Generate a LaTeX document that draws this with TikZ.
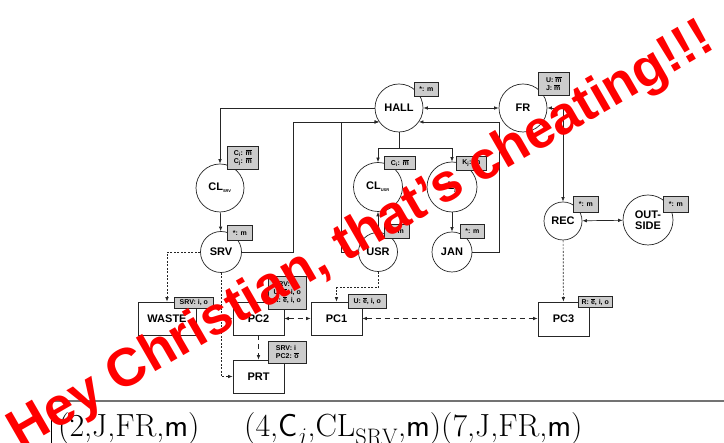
\documentclass[tikz,border=0pt]{standalone}
\usepackage{fontspec}
\newfontfamily\arial{Liberation Sans}
\usetikzlibrary{arrows.meta}
\newcommand\ovl[1]{$\overline{\hbox{#1}}$}
\begin{document}
\begin{tikzpicture}[x=1pt,y=-1pt,
  every node/.style={inner sep=0pt},
  circ/.style={circle,draw=black!85,line width=0.7pt,font=\arial\bfseries\fontsize{11}{12}\selectfont,align=center},
  pcbox/.style={rectangle,draw=black!85,line width=0.7pt,minimum width=51pt,minimum height=33pt,font=\arial\bfseries\fontsize{11}{12}\selectfont},
  lbl/.style={rectangle,draw=black!85,fill=black!20,line width=0.6pt,anchor=north west,font=\arial\bfseries\fontsize{7}{8}\selectfont,align=left,inner xsep=1.5pt,inner ysep=1pt},
  conn/.style={line width=0.7pt,draw=black!85},
  arr/.style={conn,-{Latex[length=4.5pt,width=3.5pt]}},
  darr/.style={conn,{Latex[length=4.5pt,width=3.5pt]}-{Latex[length=4.5pt,width=3.5pt]}},
  dotl/.style={dash pattern=on 2pt off 1.5pt},
  dashl/.style={dash pattern=on 5pt off 4pt},
]
\useasboundingbox (0,0) rectangle (724,443);
\fill[white] (0,0) rectangle (724,443);

% circles
\node[circ,minimum size=48pt] (HALL) at (399,108) {HALL};
\node[circ,minimum size=48pt] (FR) at (523,108) {FR};
\node[circ,minimum size=48pt] (CLSRV) at (220,188) {CL\textsubscript{\fontsize{4}{4}\selectfont SRV}};
\node[circ,minimum size=41pt] (SRV) at (221,252) {SRV};
\node[circ,minimum size=49pt] (CLUSR) at (378,187) {CL\textsubscript{\fontsize{4}{4}\selectfont USR}};
\node[circ,minimum size=50pt] (L) at (452,187) {L\textsubscript{\fontsize{5}{5}\selectfont j}};
\node[circ,minimum size=39pt] (USR) at (378,252) {USR};
\node[circ,minimum size=40pt] (JAN) at (452,252) {JAN};
\node[circ,minimum size=38pt] (REC) at (563,221) {REC};
\node[circ,minimum size=50pt] (OUT) at (648,220) {OUT-\\[-1pt]SIDE};

% boxes
\node[pcbox,minimum width=58pt] (WASTE) at (167,318.5) {WASTE};
\node[pcbox] (PC2) at (258.5,318.5) {PC2};
\node[pcbox] (PC1) at (336.5,318.5) {PC1};
\node[pcbox,minimum height=34pt] (PC3) at (563.5,319) {PC3};
\node[pcbox] (PRT) at (258.5,376.5) {PRT};

% labels
\node[lbl,minimum width=24pt,minimum height=14pt] (lHALL) at (414,82) {*: m};
\node[lbl,minimum width=31pt,minimum height=23pt] (lFR) at (538,72) {U: \ovl{m}\\J: \ovl{m}};
\node[lbl,minimum width=31pt,minimum height=23pt] (lCLSRV) at (227,146) {C\textsubscript{i}: \ovl{m}\\C\textsubscript{j}: \ovl{m}};
\node[lbl,minimum width=31pt,minimum height=13pt] (lCLUSR) at (384,156) {C\textsubscript{i}: \ovl{m}};
\node[lbl,minimum width=30pt,minimum height=14pt] (lL) at (456,156) {K\textsubscript{j}: m};
\node[lbl,minimum width=25pt,minimum height=14pt] (lUSR) at (384,224) {*: m};
\node[lbl,minimum width=24pt,minimum height=14pt] (lJAN) at (460,224) {*: m};
\node[lbl,minimum width=25pt,minimum height=15pt] (lSRV) at (227,225) {*: m};
\node[lbl,minimum width=25pt,minimum height=16pt] (lREC) at (573,196) {*: m};
\node[lbl,minimum width=25pt,minimum height=16pt] (lOUT) at (663,196) {*: m};
\node[lbl,minimum width=39pt,minimum height=11pt] (lWASTE) at (174,297) {SRV: i, o};
\node[lbl,minimum width=38pt,minimum height=33pt] (lPC2) at (268,276) {SRV:\\U: \ovl{e}, i, o\\R: \ovl{e}, i, o};
\node[lbl,minimum width=38pt,minimum height=14pt] (lPC1) at (348,294) {U: \ovl{e}, i, o};
\node[lbl,minimum width=34pt,minimum height=11pt] (lPC3) at (578,296) {R: \ovl{e}, i, o};
\node[lbl,minimum width=38pt,minimum height=22pt] (lPRT) at (268,341) {SRV: i\\PC2: \ovl{o}};

% solid connectors
\draw[arr] (HALL.west) -| (CLSRV.north);
\draw[arr] (CLSRV) -- (SRV);
\draw[arr] (SRV.east) -- ++(51,0) |- (HALL.215);
\draw[arr] (USR.west) -- ++(-17,0) |- (HALL.215);
\draw[arr] (JAN.east) -- ++(27,0) |- (HALL.325);
\draw[arr] (HALL.south) -- ++(0,16) -| (CLUSR.north);
\draw[arr] (HALL.south) -- ++(0,16) -| (L.north);
\draw[darr] (CLUSR) -- (USR);
\draw[arr] (L) -- (JAN);
\draw[darr] (HALL) -- (FR);
\draw[darr] (FR.east) -| (REC.north);
\draw[darr] (REC) -- (OUT);

% dotted connectors
\draw[arr,dotl] (REC) -- (PC3);
\draw[arr,dotl] (SRV.west) -| (WASTE.north);
\draw[arr,dotl] (SRV.south) |- (PRT.west);
\draw[arr,dotl] (SRV.south) |- (PC2.west);
\draw[arr,dotl] (USR.south) -- ++(0,16) -| (PC1.north);

% dashed connectors
\draw[darr,dashl] (PC2) -- (PC1);
\draw[darr,dashl] (PC1.east) -- (PC3.west |- PC1.east);
\draw[arr,dashl] (PC2) -- (PRT);

% bottom part
\coordinate (rl) at (51,401);
\coordinate (rr) at (724,401);
\draw[line width=1.3pt,draw=black!55] (rl) -- (rr);
\coordinate (vb) at (51,412);
\coordinate (ve) at (51,443);
\draw[line width=0.6pt] (vb) -- (ve);
\node[anchor=base west,font=\fontsize{32}{34}\selectfont] (t1) at (58,437) {(2,J,FR,\textsf{m})};
\node[anchor=base west,font=\fontsize{32}{34}\selectfont] (t2) at (244,437) {(4,\textsf{C}$_j$,CL$_{\mathrm{SRV}}$,\textsf{m})(7,J,FR,\textsf{m})};

% overlay
\node[rotate=30,text=red,font=\arial\bfseries\fontsize{53.5}{60}\selectfont] (hey) at (362,237) {Hey Christian, that’s cheating!!!};
\end{tikzpicture}
\end{document}
